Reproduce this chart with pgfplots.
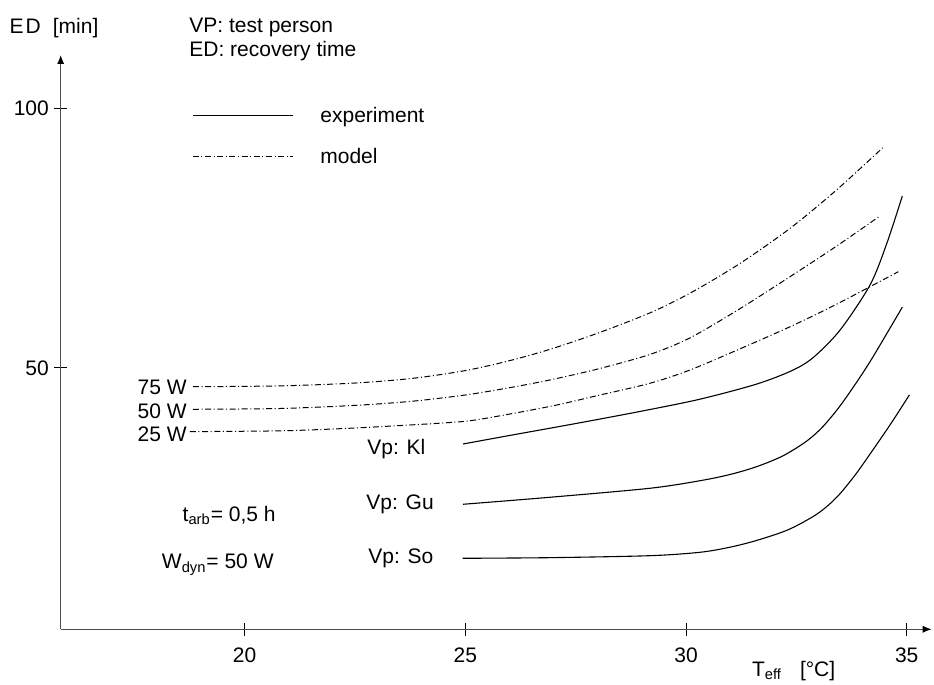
\documentclass[border=0pt]{standalone}
\usepackage{pgfplots}
\pgfplotsset{compat=1.18}
\usepackage{pgfplotstable}
\usetikzlibrary{arrows.meta}
\usepackage{fontspec}
\setmainfont{Liberation Sans}

\pgfplotstableread{
x y
18.83 46.40
20.80 46.55
22.50 47.10
23.80 48.00
25.00 49.50
26.00 51.40
26.92 53.60
28.00 56.70
29.18 60.60
30.09 64.40
31.20 70.00
32.36 76.90
33.40 84.20
34.47 92.50
}\modelA
\pgfplotstableread{
x y
18.83 42.05
20.80 42.20
22.50 42.80
23.80 43.60
25.00 44.80
26.00 46.20
26.92 47.70
28.00 49.80
29.18 52.60
30.09 55.80
31.20 61.30
32.36 67.60
33.40 73.40
34.40 79.30
}\modelB
\pgfplotstableread{
x y
18.76 37.74
20.80 37.90
22.00 38.25
23.07 38.70
24.65 39.50
25.33 40.12
26.92 42.60
28.00 44.70
29.18 47.05
30.09 49.61
31.20 53.60
32.36 57.95
33.30 61.80
34.17 65.65
34.81 68.54
}\modelC
\pgfplotstableread{
x y
24.95 35.37
26.00 37.00
27.50 39.30
29.00 41.70
30.32 44.00
31.60 46.90
32.40 49.50
32.88 52.00
33.49 57.30
34.17 66.00
34.55 74.00
34.90 83.10
}\expKl
\pgfplotstableread{
x y
24.95 23.76
26.92 25.11
29.18 26.84
30.32 28.30
31.00 29.50
31.60 31.00
32.20 33.10
32.73 35.90
33.10 38.70
33.49 42.70
33.90 47.70
34.24 52.20
34.90 61.70
}\expGu
\pgfplotstableread{
x y
24.94 13.36
26.92 13.48
29.18 13.86
30.32 14.52
31.00 15.50
31.60 16.80
32.30 18.80
32.88 21.40
33.20 23.40
33.49 25.80
33.85 29.60
34.24 34.30
34.65 39.40
35.06 44.80
}\expSo

\tikzset{modelline/.style={black, line width=0.5pt, dash pattern=on 3pt off 1.3pt on 0.5pt off 1.3pt},
  expline/.style={black, line width=0.55pt}}

\begin{document}
\begin{tikzpicture}[font=\fontsize{10.5}{12.5}\selectfont]
\begin{scope}[x=0.5pt, y=-0.5pt, shift={(-30.35pt,314.65pt)}]
\path[use as bounding box] (0,0) rectangle (934,685);
\end{scope}
\begin{axis}[
  at={(0pt,0pt)}, anchor=south west,
  scale only axis, width=435.5pt, height=287.15pt,
  xmin=15.834, xmax=35.566, ymin=-0.31, ymax=110.26,
  clip=false,
  axis lines=left,
  axis line style={black!70, line width=0.6pt, -{Latex[black,length=4.5pt,width=3.6pt]}},
  xtick={20,25,30,35}, ytick={50,100},
  tick align=center, major tick length=6.5pt,
  tick style={black, line width=0.5pt},
  /pgf/number format/assume math mode=true,
  ticklabel style={font=\fontsize{10.5}{12.5}\selectfont},
  xticklabel style={anchor=north, inner sep=0pt, yshift=-6pt},
  yticklabel style={anchor=east, inner sep=0pt, xshift=-2.5pt},
  legend image code/.code={\draw[#1] (0pt,3.4pt) -- (50pt,3.4pt);},
  legend style={draw=none, fill=none, at={(0.1511,0.909)}, anchor=north west,
    inner sep=0pt, outer sep=0pt, row sep=10.5pt, column sep=13.5pt,
    nodes={inner sep=0pt, text height=7.5pt, text depth=2.5pt, anchor=base west},
    font=\fontsize{10.5}{12.5}\selectfont},
  legend cell align=left,
]
\addlegendimage{expline}
\addlegendentry{experiment}
\addlegendimage{modelline}
\addlegendentry{model}
\addplot[modelline, smooth, forget plot] table {\modelA};
\addplot[modelline, smooth, forget plot] table {\modelB};
\addplot[modelline, smooth, forget plot] table {\modelC};
\addplot[expline, smooth, forget plot] table {\expKl};
\addplot[expline, smooth, forget plot] table {\expGu};
\addplot[expline, smooth, forget plot] table {\expSo};
\end{axis}
\begin{scope}[x=0.5pt, y=-0.5pt, shift={(-30.35pt,314.65pt)}]
\node[anchor=base west, inner sep=0pt] at (9.3,33.3) {E\hspace{1pt}D\hspace{6pt}[min]};
\node[anchor=base west, inner sep=0pt] at (189,33) {VP: test person};
\node[anchor=base west, inner sep=0pt] at (189,57) {ED: recovery time};
\node[anchor=base east, inner sep=0pt] at (187,395) {75 W};
\node[anchor=base east, inner sep=0pt] at (187,419) {50 W};
\node[anchor=base east, inner sep=0pt] at (187,441.5) {25 W};
\node[anchor=base west, inner sep=0pt] at (367,455) {Vp: Kl};
\node[anchor=base west, inner sep=0pt] at (366,510) {Vp: Gu};
\node[anchor=base west, inner sep=0pt] at (368,564) {Vp: So};
\node[anchor=base east, inner sep=0pt] at (276,521.7) {t\textsubscript{arb}= 0,5 h};
\node[anchor=base east, inner sep=0pt] at (274,569) {W\textsubscript{dyn}= 50 W};
\node[anchor=base west, inner sep=0pt] at (751.7,676.7) {T\textsubscript{eff}\hspace{9pt}[°C]};
\end{scope}
\end{tikzpicture}
\end{document}
